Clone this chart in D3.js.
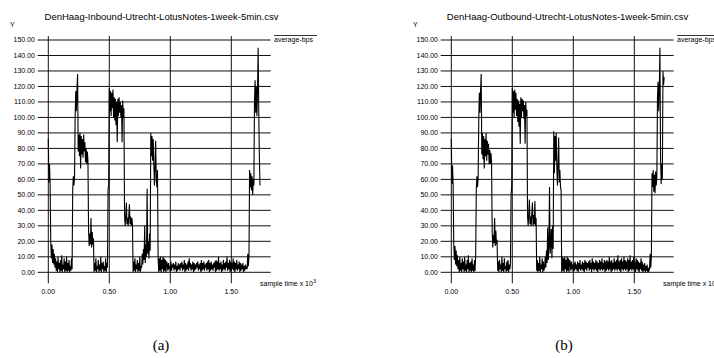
<!DOCTYPE html>
<html>
<head>
<meta charset="utf-8">
<script src="https://cdn.jsdelivr.net/npm/d3@7"></script>
<style>
  body { margin: 0; background: #fff; }
  text { font-family: "Liberation Sans", Arial, Helvetica, sans-serif; fill: #000; }
</style>
</head>
<body>
<div id="chart"></div>
<script>
// one point every 5 samples (x axis is sample index x 10^3)
const sampleStep = 0.005;

const inboundBps = [
  86, 58, 70, 56,
  20, 9, 18, 6, 15, 5, 12, 3,
  9, 1, 7, 0, 10, 2, 6, 0, 8, 1, 11, 0, 5, 2, 9, 0, 7, 1, 10, 0, 6, 1, 8, 0, 4, 1, 9, 2,
  53, 62, 56, 61,
  100, 117, 104, 118,
  128,
  78, 89, 75, 90, 67, 88, 76, 86, 74, 89, 78, 84, 71, 80, 70, 78, 72,
  27, 17, 25, 18, 35, 16, 26, 18, 22,
  0, 6, 1, 9, 0, 4, 2, 8, 0, 5, 1, 10, 0, 6, 2, 7, 0, 4, 1, 9, 0, 6, 3,
  54, 56,
  119, 104, 117, 101, 116, 106, 118, 100, 113, 98, 112, 95, 110, 84,
  112, 101, 113, 103, 110, 100, 108, 84, 111, 100, 106,
  37, 30, 36, 45, 31, 35, 30, 37, 44, 31, 36, 30, 35, 31,
  0, 7, 1, 9, 0, 5, 2, 8, 0, 6, 1, 10, 0, 4,
  3, 12, 5, 15, 8, 30, 6, 18, 10, 54, 12, 20, 9, 25, 14,
  90, 75, 88, 72, 86,
  70, 56, 68, 85, 60, 55, 66,
  10, 0, 9, 1, 10, 0, 8, 2, 10, 0, 9, 1, 8, 0, 7,
  5, 1, 6, 2, 4, 0, 7, 1, 5, 3,
  6, 1, 5, 2, 7, 0, 4, 1, 6, 2,
  5, 1, 6, 3, 7, 1, 5, 2, 8, 0,
  6, 1, 5, 2, 7, 1, 9, 3, 6, 1,
  5, 2, 7, 0, 6, 1, 5, 2, 6, 3,
  7, 1, 5, 2, 6, 0, 8, 1, 6, 2,
  7, 1, 5, 3, 6, 1, 7, 2, 8, 0,
  6, 1, 7, 2, 5, 1, 6, 3, 7, 0,
  8, 1, 7, 2, 10, 1, 6, 2, 7, 0,
  5, 1, 8, 2, 6, 1, 7, 3, 10, 1,
  6, 2, 8, 0, 7, 1, 6, 2, 9, 1,
  7, 0, 6, 2, 8, 1, 5, 2, 7, 0,
  6, 1, 5, 2, 6, 0, 4, 1, 5, 2,
  4,
  2, 12, 4, 11,
  66, 55, 64, 53, 62, 50, 60, 56,
  110, 124, 103, 120, 101, 118,
  145,
  103, 75, 56
];

const outboundBps = [
  86, 57, 69, 56,
  19, 8, 17, 5, 14, 4, 11, 2,
  8, 0, 10, 1, 6, 0, 9, 2, 7, 0, 10, 1, 5, 0, 8, 2, 11, 0, 6, 1, 7, 0, 9, 1, 5, 0, 8, 1, 12,
  54, 62, 55, 61,
  98, 116, 103, 118, 128,
  76, 90, 73, 88, 67, 86, 75, 90, 72, 85, 76, 83, 70, 79, 70, 77, 71,
  27, 16, 24, 19, 35, 17, 27, 18, 21,
  1, 7, 0, 8, 2, 5, 0, 10, 1, 6, 0, 9, 2, 4, 0, 7, 1, 8, 0, 5, 2, 6,
  50, 55, 119,
  103, 117, 100, 118, 105, 116, 101, 112, 97, 111, 94, 109, 83,
  113, 100, 112, 104, 111, 99, 108, 83, 110, 101, 105,
  36, 30, 38, 47, 31, 36, 30, 38, 45, 30, 37, 31, 46, 30, 35,
  1, 8, 0, 6, 1, 10, 0, 5, 2, 9, 0, 7, 1,
  4, 10, 3, 14, 6, 29, 8, 17, 55, 12, 18, 28, 9, 30, 15,
  91, 64, 88, 72, 90,
  68, 56, 70, 87, 58, 66, 55, 53,
  0, 10, 1, 9, 0, 10, 2, 8, 0, 10, 1, 9, 0, 8,
  6, 1, 7, 2, 5, 0, 6, 1, 7, 2,
  5, 1, 7, 0, 6, 2, 8, 1, 5, 2,
  7, 1, 6, 0, 8, 2, 7, 1, 6, 3,
  7, 1, 8, 2, 6, 0, 9, 2, 7, 1,
  6, 2, 8, 1, 7, 0, 6, 2, 8, 1,
  7, 2, 9, 1, 6, 2, 8, 0, 7, 1,
  8, 2, 7, 1, 10, 2, 7, 0, 8, 1,
  6, 2, 9, 1, 7, 2, 8, 1, 11, 2,
  7, 1, 8, 0, 9, 2, 7, 1, 10, 2,
  8, 1, 7, 2, 9, 0, 8, 1, 11, 2,
  7, 1, 8, 2, 10, 1, 7, 0, 9, 2,
  8, 1, 7, 0, 6, 2, 9, 1, 7, 0,
  5, 1, 6, 0, 4, 1, 5, 0, 3, 1,
  2,
  12, 3, 10, 64,
  55, 66, 52, 63, 51, 65, 56, 62,
  113, 123, 104, 120, 145,
  77, 57, 70,
  60, 130, 121, 126
];

const yTicks = [0, 10, 20, 30, 40, 50, 60, 70, 80, 90, 100, 110, 120, 130, 140, 150];
const xTicks = [0, 0.5, 1.0, 1.5];

const titles = [
  'DenHaag-Inbound-Utrecht-LotusNotes-1week-5min.csv',
  'DenHaag-Outbound-Utrecht-LotusNotes-1week-5min.csv'
];
const captions = ['(a)', '(b)'];
const seriesList = [inboundBps, outboundBps];

const width = 714;
const height = 358;

const svg = d3.select('#chart')
  .append('svg')
  .attr('width', width)
  .attr('height', height);

svg.append('rect').attr('width', width).attr('height', height).attr('fill', '#fff');

seriesList.forEach((values, k) => {
  const g = svg.append('g').attr('transform', `translate(${k * 403},0)`);

  const x = d3.scaleLinear().domain([0, 1.5]).range([48.3, 231.3]);
  const y = d3.scaleLinear().domain([0, 150]).range([272.3, 40]);

  // title and Y label
  g.append('text')
    .attr('x', 161.5 + k * 3).attr('y', 19.5)
    .attr('text-anchor', 'middle')
    .style('font-size', '9.5px')
    .text(titles[k]);

  g.append('text')
    .attr('x', 10).attr('y', 27)
    .style('font-size', '7px')
    .text('Y');

  // horizontal grid
  g.selectAll('line.h')
    .data(yTicks)
    .join('line')
    .attr('class', 'h')
    .attr('x1', 37.7).attr('x2', 270.7)
    .attr('y1', d => y(d)).attr('y2', d => y(d))
    .attr('stroke', '#111')
    .attr('stroke-width', 1);

  g.selectAll('text.yl')
    .data(yTicks)
    .join('text')
    .attr('class', 'yl')
    .attr('x', 35)
    .attr('y', d => y(d))
    .attr('dy', '0.35em')
    .attr('text-anchor', 'end')
    .style('font-size', '7px')
    .text(d => d.toFixed(2));

  // vertical grid
  g.selectAll('line.v')
    .data(xTicks)
    .join('line')
    .attr('class', 'v')
    .attr('x1', d => x(d)).attr('x2', d => x(d))
    .attr('y1', 36).attr('y2', 283.3)
    .attr('stroke', '#111')
    .attr('stroke-width', 1);

  g.selectAll('text.xl')
    .data(xTicks)
    .join('text')
    .attr('class', 'xl')
    .attr('x', d => x(d))
    .attr('y', 294)
    .attr('text-anchor', 'middle')
    .style('font-size', '7px')
    .text(d => d.toFixed(2));

  // axis label
  const xl = g.append('text')
    .attr('x', 260).attr('y', 286)
    .style('font-size', '7px');
  xl.append('tspan').text('sample time x 10');
  xl.append('tspan').attr('dy', -3).style('font-size', '5.5px').text('3');

  // legend
  g.append('line')
    .attr('x1', 274).attr('x2', 317)
    .attr('y1', 35.5).attr('y2', 35.5)
    .attr('stroke', '#000').attr('stroke-width', 0.8);
  g.append('text')
    .attr('x', 274).attr('y', 42)
    .style('font-size', '7px')
    .text('average-bps');

  // data trace
  const line = d3.line()
    .x((d, i) => x(i * sampleStep))
    .y(d => y(d));

  g.append('path')
    .datum(values)
    .attr('d', line)
    .attr('fill', 'none')
    .attr('stroke', '#000')
    .attr('stroke-width', 1.1);

  svg.append('text')
    .attr('x', 161 + k * 403).attr('y', 350)
    .attr('text-anchor', 'middle')
    .style('font-family', '"Liberation Serif", "DejaVu Serif", serif')
    .style('font-size', '15px')
    .text(captions[k]);
});
</script>
</body>
</html>
